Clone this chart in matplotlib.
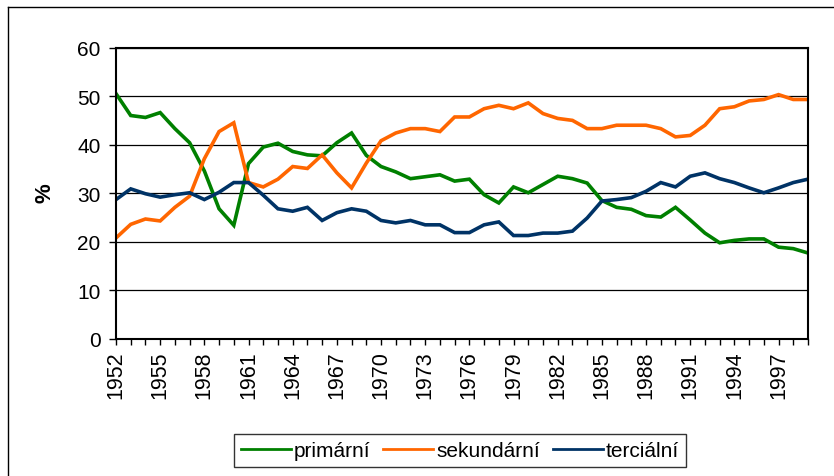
import matplotlib
matplotlib.use("Agg")
import matplotlib.pyplot as plt
from matplotlib.lines import Line2D
from matplotlib.ticker import MultipleLocator

plt.rcParams['font.family'] = ['Liberation Sans', 'DejaVu Sans']

years = list(range(1952, 2000))
primarni = [50.5, 46.0, 45.6, 46.6, 43.3, 40.4, 34.6, 26.8, 23.4, 36.1,
            39.5, 40.3, 38.6, 37.9, 37.7, 40.4, 42.4, 37.8, 35.5, 34.4,
            33.0, 33.4, 33.8, 32.5, 32.9, 29.7, 28.0, 31.3, 30.1, 31.8,
            33.5, 33.0, 32.1, 28.5, 27.1, 26.7, 25.4, 25.1, 27.1, 24.5,
            21.8, 19.8, 20.3, 20.6, 20.6, 18.9, 18.6, 17.7]
sekundarni = [20.8, 23.6, 24.7, 24.3, 27.1, 29.4, 37.1, 42.7, 44.5, 32.2,
              31.3, 32.9, 35.5, 35.1, 37.9, 34.2, 31.1, 36.2, 40.8, 42.4,
              43.3, 43.3, 42.7, 45.7, 45.7, 47.4, 48.1, 47.4, 48.6, 46.4,
              45.4, 45.0, 43.3, 43.3, 44.0, 44.0, 44.0, 43.3, 41.6, 41.9,
              44.0, 47.4, 47.8, 49.0, 49.3, 50.3, 49.3, 49.3]
tercialni = [28.7, 30.9, 29.9, 29.2, 29.7, 30.1, 28.7, 30.2, 32.2, 32.2,
             29.6, 26.8, 26.3, 27.1, 24.4, 26.0, 26.8, 26.3, 24.4, 23.9,
             24.4, 23.5, 23.5, 21.9, 21.9, 23.5, 24.1, 21.3, 21.3, 21.8,
             21.8, 22.2, 24.9, 28.4, 28.7, 29.1, 30.4, 32.2, 31.3, 33.5,
             34.2, 33.0, 32.2, 31.1, 30.1, 31.1, 32.2, 32.9]
series_names = ['primární', 'sekundární', 'terciální']
colors = ['#008000', '#FF6600', '#003366']

fig = plt.figure(figsize=(8.34, 4.77), dpi=100)
ax = fig.add_axes([116/834, 1-340/477, (808-116)/834, (340-48.5)/477])

for vals, name, c in zip([primarni, sekundarni, tercialni], series_names, colors):
    ax.plot(years, vals, color=c, lw=2.6, label=name, solid_joinstyle='miter')

ax.set_xlim(1952, 1999)
ax.set_ylim(0, 60)
ax.set_yticks(range(0, 61, 10))
ax.xaxis.set_major_locator(MultipleLocator(3))
ax.xaxis.set_minor_locator(MultipleLocator(1))
ax.set_xticks(range(1952, 1998, 3))
ax.set_xticklabels([str(y) for y in range(1952, 1998, 3)], rotation=90)
ax.grid(axis='y', color='black', lw=0.9)
ax.set_axisbelow(True)
ax.tick_params(axis='y', length=5, width=1, labelsize=15, pad=6)
ax.tick_params(axis='x', which='both', length=4, width=1, labelsize=15.5, pad=4)
for s in ax.spines.values():
    s.set_linewidth(1.5)
    s.set_color('black')

fig.text(45/834, 1-193/477, '%', rotation=90, ha='center', va='center',
         fontsize=16, fontweight='bold')

leg = ax.legend(loc='center', bbox_to_anchor=(460/834, 1-451.5/477),
                bbox_transform=fig.transFigure, ncol=3, fontsize=15,
                frameon=True, fancybox=False, edgecolor='black',
                handlelength=2.4, handletextpad=0.15, columnspacing=0.6,
                borderpad=0.35, borderaxespad=0)
leg.get_frame().set_linewidth(1.0)
for h in leg.get_lines():
    h.set_linewidth(2.0)

# chart area border (left and top visible)
fig.add_artist(Line2D([8/834, 8/834], [0, 1-8/477], color='black', lw=1,
                      transform=fig.transFigure))
fig.add_artist(Line2D([8/834, 1], [1-8/477, 1-8/477], color='black', lw=1,
                      transform=fig.transFigure))

fig.savefig('out.png', dpi=100)
